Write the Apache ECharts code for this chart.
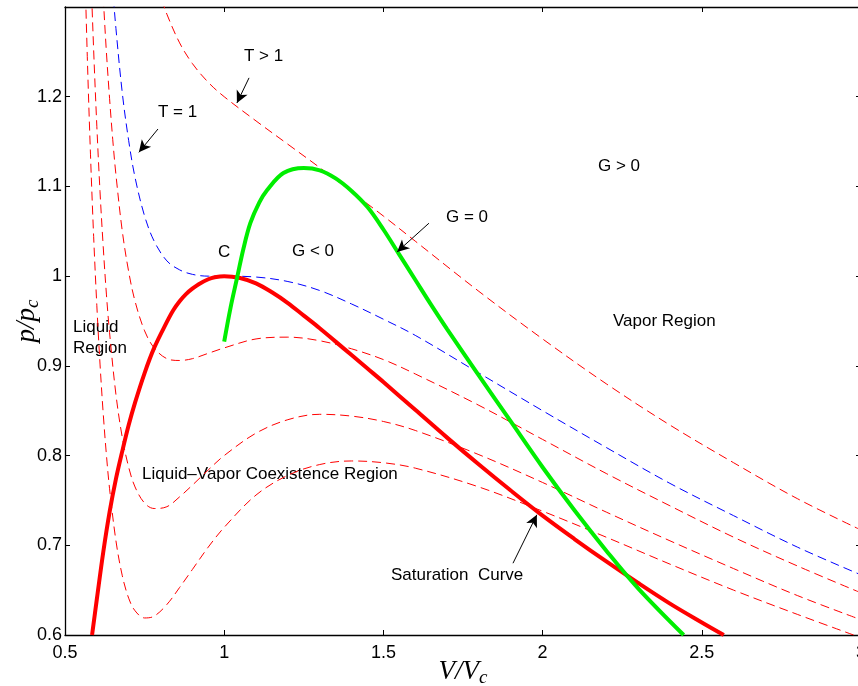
<!DOCTYPE html>
<html>
<head>
<meta charset="utf-8">
<script src="https://cdn.jsdelivr.net/npm/echarts@6/dist/echarts.min.js"></script>
<style>
  html, body { margin: 0; padding: 0; background: #fff; }
  #main { width: 858px; height: 686px; }
</style>
</head>
<body>
<div id="main"></div>
<script>
// isotherms (reduced volume / reduced pressure)
var vT093 = [0.56,0.57,0.58,0.59,0.6,0.61,0.62,0.63,0.64,0.66,0.68,0.7,0.72,0.75,0.78,0.82,0.86,0.9,0.95,1.0,1.1,1.2,1.3,1.4,1.5,1.6,1.8,2.0,2.2,2.4,2.6,2.8,3.0];
var pT093 = [1.375,1.245,1.136,1.044,0.967,0.902,0.847,0.801,0.763,0.705,0.666,0.641,0.627,0.619,0.621,0.634,0.653,0.673,0.698,0.72,0.756,0.778,0.790,0.794,0.792,0.786,0.765,0.738,0.709,0.679,0.650,0.623,0.597];

var vT095 = [0.57,0.58,0.59,0.6,0.61,0.62,0.63,0.64,0.66,0.68,0.7,0.72,0.75,0.78,0.82,0.86,0.9,0.95,1.0,1.1,1.2,1.3,1.4,1.5,1.6,1.8,2.0,2.2,2.4,2.6,2.8,3.0];
var pT095 = [1.470,1.352,1.252,1.167,1.094,1.033,0.980,0.937,0.868,0.820,0.787,0.765,0.747,0.741,0.743,0.754,0.767,0.784,0.8,0.825,0.840,0.846,0.844,0.838,0.828,0.801,0.770,0.737,0.705,0.674,0.644,0.617];

var vT098 = [0.6,0.61,0.62,0.63,0.64,0.65,0.66,0.68,0.7,0.72,0.75,0.78,0.82,0.86,0.9,0.95,1.0,1.1,1.2,1.3,1.4,1.5,1.6,1.8,2.0,2.2,2.4,2.6,2.8,3.0];
var pT098 = [1.467,1.384,1.312,1.250,1.198,1.152,1.113,1.050,1.005,0.972,0.939,0.920,0.908,0.906,0.908,0.914,0.92,0.930,0.932,0.928,0.919,0.907,0.891,0.856,0.818,0.780,0.744,0.709,0.677,0.647];

var vT100 = [0.64,0.65,0.66,0.68,0.7,0.72,0.75,0.78,0.82,0.86,0.9,0.95,1.0,1.1,1.2,1.3,1.4,1.5,1.6,1.8,2.0,2.2,2.4,2.6,2.8,3.0];
var pT100 = [1.372,1.320,1.276,1.204,1.151,1.110,1.067,1.039,1.017,1.007,1.002,1.000,1.0,0.999,0.994,0.984,0.969,0.952,0.934,0.892,0.85,0.809,0.769,0.733,0.698,0.667];

var vT105 = [0.78,0.8,0.82,0.86,0.9,0.95,1.0,1.1,1.2,1.3,1.4,1.5,1.6,1.8,2.0,2.2,2.4,2.6,2.8,3.0];
var pT105 = [1.338,1.3125,1.292,1.260,1.237,1.216,1.2,1.173,1.147,1.121,1.094,1.067,1.039,0.983,0.93,0.880,0.834,0.792,0.752,0.717];

// saturation curve (thick red)
var vSat = [0.585,0.6,0.62,0.64,0.66,0.68,0.7,0.72,0.75,0.78,0.82,0.84,0.86,0.88,0.9,0.92,0.95,0.97,1.0,1.05,1.1,1.15,1.2,1.25,1.3,1.35,1.4,1.45,1.5,1.6,1.7,1.8,1.9,2.0,2.1,2.2,2.3,2.4,2.5,2.569];
var pSat = [0.6,0.64,0.692,0.737,0.774,0.805,0.834,0.859,0.892,0.92,0.949,0.962,0.972,0.98,0.986,0.991,0.9965,0.9987,1.0,0.998,0.992,0.982,0.97,0.956,0.942,0.927,0.912,0.897,0.882,0.851,0.82,0.79,0.761,0.733,0.707,0.682,0.658,0.635,0.614,0.6];

// G = 0 curve (green)
var vG0 = [1.0,1.02,1.041,1.06,1.082,1.11,1.135,1.186,1.25,1.3,1.35,1.4,1.45,1.5,1.55,1.6,1.65,1.7,1.8,1.9,2.0,2.1,2.2,2.3,2.443];
var pG0 = [0.927,0.965,0.999,1.03,1.059,1.082,1.096,1.115,1.1206,1.118,1.109,1.095,1.077,1.052,1.024,0.996,0.968,0.941,0.889,0.838,0.787,0.739,0.694,0.652,0.6];

var xTicks = [0.5, 3, 0.5];   // min, max, step
var yTicks = [0.6, 1.3, 0.1];

function pairs(v, p) {
  return v.map(function (x, i) { return [x, p[i]]; });
}
function fmt(v) {
  return +v.toFixed(1);
}

var font = '"Liberation Sans", Arial, sans-serif';
var mathFont = '"Liberation Serif", "DejaVu Serif", serif';

function iso(data, color) {
  return {
    type: 'line', data: data, symbol: 'none', smooth: 0.35,
    lineStyle: { color: color, width: 1, type: [9, 5] }, z: 2, silent: true
  };
}

var arrowLines = [
  [{ coord: [1.078, 1.221] }, { coord: [1.040, 1.193] }],
  [{ coord: [0.792, 1.164] }, { coord: [0.732, 1.138] }],
  [{ coord: [1.643, 1.059] }, { coord: [1.543, 1.027] }],
  [{ coord: [1.907, 0.680] }, { coord: [1.982, 0.734] }]
];

var mathRich = {
  a: { fontFamily: mathFont, fontStyle: 'italic', fontSize: 27, color: '#000' },
  s: { fontFamily: mathFont, fontStyle: 'italic', fontSize: 19, color: '#000', padding: [12, 0, 0, 0] }
};

var chart = echarts.init(document.getElementById('main'), null, { renderer: 'canvas' });

var option = {
  backgroundColor: '#fff',
  animation: false,
  grid: { left: 65, top: 7, width: 796, height: 628, containLabel: false, outerBoundsMode: 'none' },
  xAxis: [{
    type: 'value', min: xTicks[0], max: xTicks[1], interval: xTicks[2],
    position: 'bottom',
    axisLine: { onZero: false, lineStyle: { color: '#000', width: 1.3 } },
    axisTick: { inside: true, length: 5, lineStyle: { color: '#000' } },
    axisLabel: { color: '#000', fontSize: 18, fontFamily: font, margin: 9, formatter: fmt, hideOverlap: false },
    splitLine: { show: false },
    name: '{a|V/V}{s|c}', nameLocation: 'middle', nameGap: 21, nameMoveOverlap: false,
    nameTextStyle: { rich: mathRich }
  }, {
    type: 'value', min: xTicks[0], max: xTicks[1], interval: xTicks[2],
    position: 'top',
    axisLine: { onZero: false, lineStyle: { color: '#000', width: 1.3 } },
    axisTick: { inside: true, length: 5, lineStyle: { color: '#000' } },
    axisLabel: { show: false }, splitLine: { show: false }
  }],
  yAxis: [{
    type: 'value', min: yTicks[0], max: yTicks[1], interval: yTicks[2],
    position: 'left',
    axisLine: { onZero: false, lineStyle: { color: '#000', width: 1.3 } },
    axisTick: { inside: true, length: 5, lineStyle: { color: '#000' } },
    axisLabel: {
      color: '#000', fontSize: 18, fontFamily: font, margin: 3,
      formatter: function (v) { return v > 1.25 ? '' : fmt(v); }
    },
    splitLine: { show: false },
    name: '{a|p/p}{s|c}', nameLocation: 'middle', nameGap: 23, nameRotate: 90, nameMoveOverlap: false,
    nameTextStyle: { rich: mathRich }
  }, {
    type: 'value', min: yTicks[0], max: yTicks[1], interval: yTicks[2],
    position: 'right',
    axisLine: { onZero: false, lineStyle: { color: '#000', width: 1.3 } },
    axisTick: { inside: true, length: 5, lineStyle: { color: '#000' } },
    axisLabel: { show: false }, splitLine: { show: false }
  }],
  series: [
    iso(pairs(vT093, pT093), '#ff0000'),
    iso(pairs(vT095, pT095), '#ff0000'),
    iso(pairs(vT098, pT098), '#ff0000'),
    iso(pairs(vT100, pT100), '#0000ff'),
    iso(pairs(vT105, pT105), '#ff0000'),
    {
      type: 'line', data: pairs(vSat, pSat), symbol: 'none', smooth: 0.35,
      lineStyle: { color: '#ff0000', width: 4 }, z: 3, silent: true
    },
    {
      type: 'line', data: pairs(vG0, pG0), symbol: 'none', smooth: 0.35,
      lineStyle: { color: '#00ee00', width: 4 }, z: 4, silent: true,
      markLine: {
        silent: true, symbol: ['none', 'arrow'], symbolSize: [9, 12],
        label: { show: false },
        lineStyle: { color: '#000', width: 1, type: 'solid' },
        data: arrowLines
      }
    }
  ],
  graphic: [
    { type: 'text', left: 244, top: 48, style: { text: 'T > 1', font: '17px ' + font, fill: '#000' } },
    { type: 'text', left: 158, top: 104, style: { text: 'T = 1', font: '17px ' + font, fill: '#000' } },
    { type: 'text', left: 598, top: 158, style: { text: 'G > 0', font: '17px ' + font, fill: '#000' } },
    { type: 'text', left: 446, top: 209, style: { text: 'G = 0', font: '17px ' + font, fill: '#000' } },
    { type: 'text', left: 292, top: 243, style: { text: 'G < 0', font: '17px ' + font, fill: '#000' } },
    { type: 'text', left: 218, top: 244, style: { text: 'C', font: '17px ' + font, fill: '#000' } },
    { type: 'text', left: 73, top: 317, style: { text: 'Liquid\nRegion', font: '17px ' + font, fill: '#000', lineHeight: 21 } },
    { type: 'text', left: 613, top: 313, style: { text: 'Vapor Region', font: '17px ' + font, fill: '#000' } },
    { type: 'text', left: 142, top: 466, style: { text: 'Liquid\u2013Vapor Coexistence Region', font: '17px ' + font, fill: '#000' } },
    { type: 'text', left: 391, top: 567, style: { text: 'Saturation  Curve', font: '17px ' + font, fill: '#000' } }
  ]
};

chart.setOption(option);
</script>
</body>
</html>
